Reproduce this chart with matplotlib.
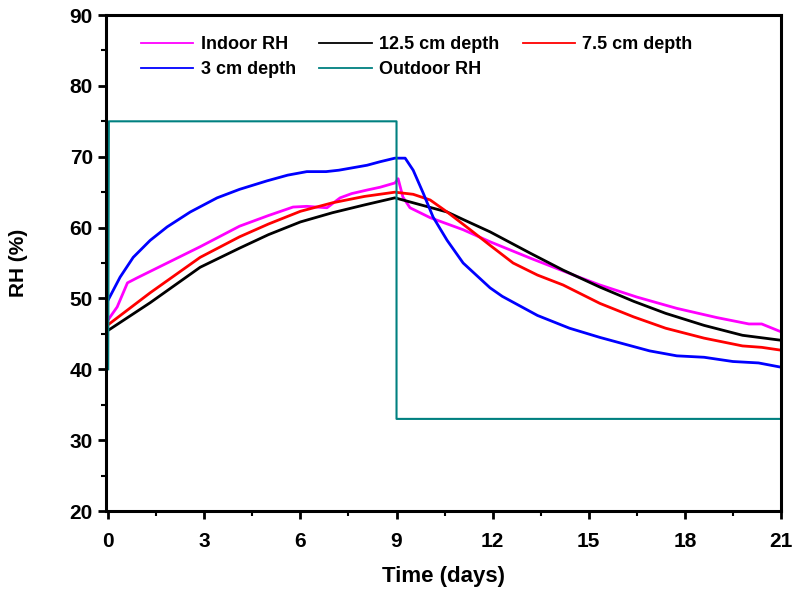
import matplotlib
matplotlib.use('Agg')
import matplotlib.pyplot as plt
from matplotlib.ticker import MultipleLocator

# readings taken off the curves (days, RH %)
indoor_t = [0, 0.28, 0.6, 0.9, 1.84, 2.87, 4.1, 5.0, 5.77, 6.2, 6.5, 6.83, 7.24, 7.6, 8.08, 8.49, 8.95,
            9.05, 9.2, 9.42, 10.05, 11.08, 11.92, 13.17, 14.7, 15.35, 16.5, 17.75, 19.0, 20.0, 20.4, 21]
indoor_rh = [47.0, 48.8, 52.2, 52.9, 55.0, 57.3, 60.2, 61.7, 62.9, 63.0, 62.9, 62.8, 64.2, 64.8, 65.3, 65.7, 66.3,
             66.9, 64.3, 62.8, 61.4, 59.7, 58.0, 55.7, 53.0, 51.9, 50.2, 48.6, 47.3, 46.4, 46.4, 45.3]

d125_t = [0, 1.31, 2.87, 4.1, 5.0, 6.0, 7.0, 8.0, 8.95, 9.52, 10.58, 11.1, 11.92, 13.17, 14.2, 15.35,
          16.4, 17.4, 18.6, 19.8, 21]
d125_rh = [45.5, 49.4, 54.4, 57.1, 59.0, 60.8, 62.1, 63.2, 64.2, 63.5, 62.2, 61.1, 59.4, 56.4, 54.0, 51.6,
           49.6, 47.9, 46.2, 44.8, 44.1]

d75_t = [0, 1.31, 2.87, 4.1, 5.0, 6.0, 7.0, 8.0, 8.95, 9.52, 10.05, 10.58, 11.3, 11.92, 12.64, 13.4, 14.2,
         15.35, 16.4, 17.4, 18.6, 19.8, 20.4, 21]
d75_rh = [46.3, 50.8, 55.8, 58.7, 60.5, 62.3, 63.5, 64.4, 65.0, 64.7, 63.9, 62.2, 59.7, 57.5, 55.0, 53.3, 51.9,
          49.3, 47.4, 45.8, 44.4, 43.3, 43.1, 42.7]

d3_t = [0, 0.37, 0.78, 1.31, 1.84, 2.56, 3.4, 4.1, 4.96, 5.6, 6.2, 6.8, 7.2, 8.08, 8.49, 8.95, 9.27, 9.52,
        9.83, 10.14, 10.58, 11.08, 11.92, 12.3, 13.4, 14.4, 15.35, 16.0, 16.9, 17.75, 18.6, 19.5, 20.3, 21]
d3_rh = [49.8, 53.0, 55.8, 58.2, 60.1, 62.2, 64.2, 65.4, 66.6, 67.4, 67.9, 67.9, 68.1, 68.8, 69.3, 69.8, 69.8,
         68.1, 64.9, 61.5, 58.2, 55.0, 51.5, 50.3, 47.6, 45.8, 44.5, 43.7, 42.6, 41.9, 41.7, 41.1, 40.9, 40.3]

out_t = [0, 0.02, 9, 9, 21]
out_rh = [40, 75, 75, 33, 33]

fig = plt.figure(figsize=(7.95, 5.94), dpi=100)
ax = fig.add_axes([0.1333, 0.1397, 0.849, 0.835])

lw = 2.0
h_in, = ax.plot(indoor_t, indoor_rh, color='#FF00FF', lw=lw, label='Indoor RH')
h_125, = ax.plot(d125_t, d125_rh, color='black', lw=lw, label='12.5 cm depth')
h_75, = ax.plot(d75_t, d75_rh, color='#FF0000', lw=lw, label='7.5 cm depth')
h_3, = ax.plot(d3_t, d3_rh, color='#0000FF', lw=lw, label='3 cm depth')
h_out, = ax.plot(out_t, out_rh, color='#008080', lw=1.5, label='Outdoor RH')

ax.set_xlim(-0.07, 21)
ax.set_ylim(20, 90)
ax.xaxis.set_major_locator(MultipleLocator(3))
ax.xaxis.set_minor_locator(MultipleLocator(1.5))
ax.yaxis.set_major_locator(MultipleLocator(10))
ax.yaxis.set_minor_locator(MultipleLocator(5))
ax.tick_params(which='major', direction='out', length=6, width=2)
ax.tick_params(which='minor', direction='out', length=3.5, width=1.5)
ax.tick_params(axis='x', which='major', pad=9)
for s in ax.spines.values():
    s.set_linewidth(2.2)

font = ['Liberation Sans', 'DejaVu Sans']
for lab in ax.get_xticklabels():
    lab.set_family(font)
    lab.set_fontweight('bold')
    lab.set_fontsize(15)
for lab in ax.get_yticklabels():
    lab.set_family(font)
    lab.set_fontweight('bold')
    lab.set_fontsize(15)

ax.set_xlabel('Time (days)', family=font, fontweight='bold', fontsize=16, labelpad=11)
ax.set_ylabel('RH (%)', family=font, fontweight='bold', fontsize=15, labelpad=30)

leg = ax.legend([h_in, h_3, h_125, h_out, h_75],
                ['Indoor RH', '3 cm depth', '12.5 cm depth', 'Outdoor RH', '7.5 cm depth'],
                ncol=3, loc='upper left', frameon=False, bbox_to_anchor=(0.028, 0.99),
                prop={'family': font, 'weight': 'bold', 'size': 13},
                handlelength=2.9, handletextpad=0.4, columnspacing=1.3, labelspacing=0.45)
for line in leg.get_lines():
    line.set_linewidth(1.3)

fig.savefig('out.png', dpi=100)
